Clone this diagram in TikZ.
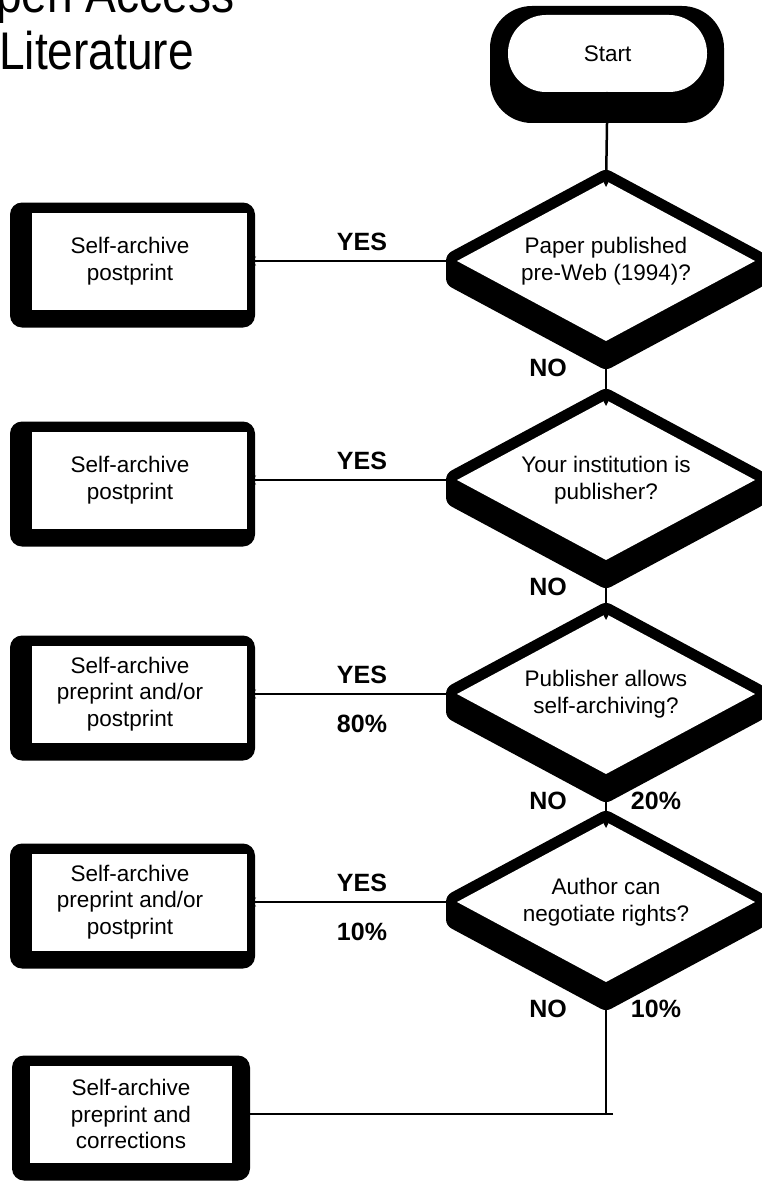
\documentclass[tikz,border=0pt]{standalone}
\usepackage{fontspec}
\usepackage{graphicx}
\setmainfont{Liberation Sans}
\usetikzlibrary{shapes.geometric,arrows.meta,backgrounds,calc}
\begin{document}
\begin{tikzpicture}[x=1pt,y=-1pt,
  txt/.style={font=\fontsize{22.5}{26.5}\selectfont, align=center, text=black},
  boxnode/.style={rectangle, fill=white, minimum width=215pt, minimum height=97pt, inner sep=0pt, outer sep=0pt},
  boxtext/.style={txt, inner sep=0pt, xshift=-9.5pt},
  decision/.style={txt, diamond, fill=white, minimum width=298pt, minimum height=160pt, aspect=1.86, inner sep=0pt, outer sep=0pt},
  startnode/.style={txt, rectangle, rounded corners=38pt, fill=white, minimum width=199pt, minimum height=77pt, inner sep=0pt, outer sep=0pt},
  lbl/.style={font=\fontsize{25}{30}\bfseries\selectfont, inner sep=0pt},
  titletxt/.style={font=\fontsize{53}{60}\selectfont, anchor=base west, inner sep=0pt},
  wire/.style={line width=2.5pt},
  conn/.style={wire, -{Stealth[length=9pt,width=9pt]}},
  blackdia/.style={fill=black, draw=black, line width=22pt, line join=round},
  ]
\useasboundingbox (0,0) rectangle (762,1188);
\clip (0,0) rectangle (762,1188);

% title
\node[titletxt] (t1) at (-40,13) {\scalebox{0.87}[1]{Open Access}};
\node[titletxt] (t2) at (-1,70) {\scalebox{0.87}[1]{Literature}};

% nodes
\node[startnode] (start) at (607.5,53.5) {Start};
\node[decision] (d1) at (606,261) {Paper published\\pre-Web (1994)?};
\node[decision] (d2) at (606,480) {Your institution is\\publisher?};
\node[decision] (d3) at (606,694) {Publisher allows\\self-archiving?};
\node[decision] (d4) at (606,902) {Author can\\negotiate rights?};

\node[boxnode, label={[boxtext]center:Self-archive\\postprint}] (b1) at (139.5,261) {};
\node[boxnode, label={[boxtext]center:Self-archive\\postprint}] (b2) at (139.5,480) {};
\node[boxnode, label={[boxtext]center:Self-archive\\preprint and/or\\postprint}] (b3) at (139.5,694) {};
\node[boxnode, label={[boxtext]center:Self-archive\\preprint and/or\\postprint}] (b4) at (139.5,902) {};
\node[boxnode, minimum width=202pt, label={[boxtext,xshift=9.5pt]center:Self-archive\\preprint and\\corrections}] (b5) at (131,1114) {};

% heavy black borders / shadows
\begin{scope}[on background layer]
  \fill[black, rounded corners=42pt] ($(start.north west)+(-18,-9)$) rectangle ($(start.south east)+(17,31)$);
  \foreach \nm in {b1,b2,b3,b4}{
    \fill[black, rounded corners=12pt] ($(\nm.north west)+(-22,-10)$) rectangle ($(\nm.south east)+(8,18)$);
  }
  \fill[black, rounded corners=12pt] ($(b5.north west)+(-18,-10)$) rectangle ($(b5.south east)+(18,18)$);
  \foreach \nm in {d1,d2,d3,d4}{
    \filldraw[blackdia] (\nm.north) -- (\nm.east) -- ($(\nm.east)+(0,17)$) -- ($(\nm.south)+(0,17)$)
      -- ($(\nm.west)+(0,17)$) -- (\nm.west) -- cycle;
  }
\end{scope}

% connectors
\draw[conn] (start.south) -- ($(d1.north)+(0,6)$);
\draw[conn] (d1.south) -- ($(d2.north)+(0,6)$);
\draw[conn] (d2.south) -- ($(d3.north)+(0,6)$);
\draw[conn] (d3.south) -- ($(d4.north)+(0,6)$);
\draw[conn] (d1.west) -- (b1.east);
\draw[conn] (d2.west) -- (b2.east);
\draw[conn] (d3.west) -- (b3.east);
\draw[conn] (d4.west) -- (b4.east);
\coordinate (c5) at (613,1114);
\draw[wire] (d4.south) -- (d4.south |- c5);
\draw[conn] (c5) -- (b5.east);

% labels
\node[lbl] (y1) at (362,242) {YES};
\node[lbl] (y2) at (362,461) {YES};
\node[lbl] (y3) at (362,675) {YES};
\node[lbl] (y4) at (362,883) {YES};
\node[lbl] (p3) at (362,724) {80\%};
\node[lbl] (p4) at (362,932) {10\%};
\node[lbl] (n1) at (548,368) {NO};
\node[lbl] (n2) at (548,587) {NO};
\node[lbl] (n3) at (548,801) {NO};
\node[lbl] (n4) at (548,1009) {NO};
\node[lbl] (q3) at (656,801) {20\%};
\node[lbl] (q4) at (656,1009) {10\%};
\end{tikzpicture}
\end{document}
